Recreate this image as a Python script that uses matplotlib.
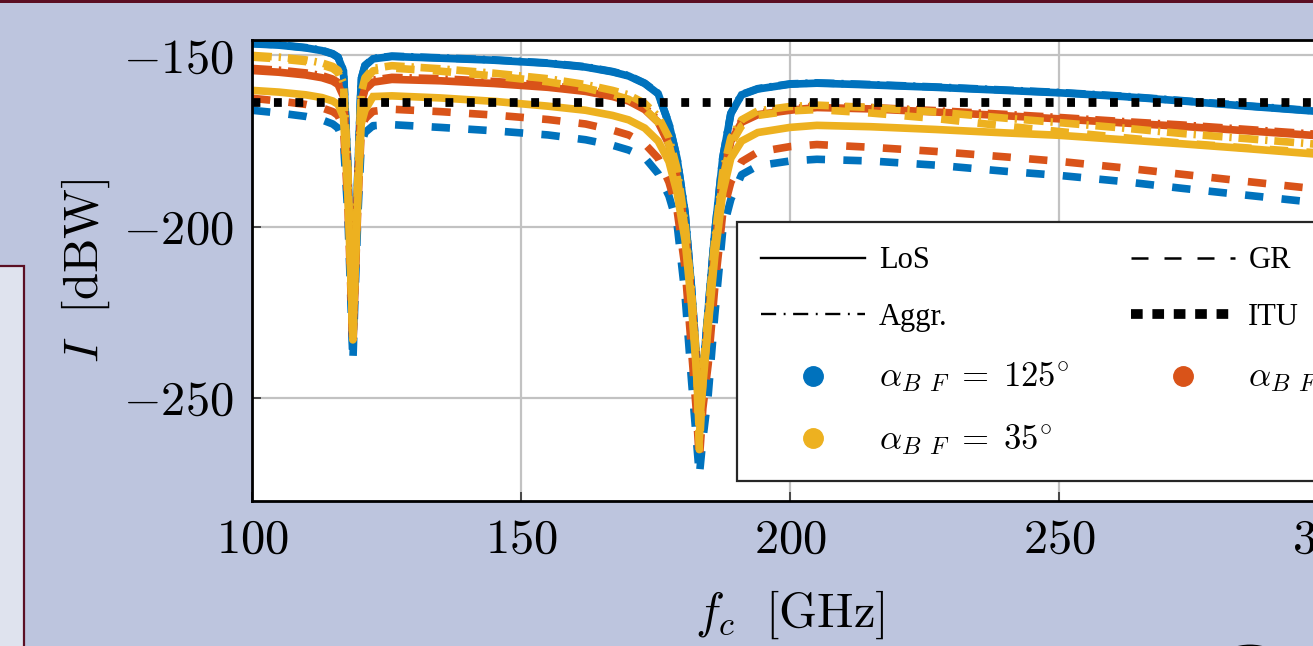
import matplotlib
matplotlib.use('Agg')
import matplotlib.pyplot as plt
from matplotlib.lines import Line2D
from matplotlib.patches import Rectangle, Ellipse

plt.rcParams['mathtext.fontset'] = 'cm'
plt.rcParams['font.family'] = ['Liberation Serif', 'DejaVu Serif']

# carrier frequency [GHz]
freq = [100, 105, 110, 113, 115, 116, 117, 117.8, 118.3, 118.75,
        119.2, 119.7, 120.3, 121, 122.5, 126, 135, 145, 155, 162,
        167, 170, 173, 175.5, 177.5, 179, 180.5, 181.7, 182.6, 183.15,
        183.8, 184.8, 186, 187.5, 189, 191, 194, 200, 205, 215,
        227, 240, 250, 262, 273, 285, 297, 300]

# interference [dBW], alpha_BF = 125 deg (blue)
blue_los = [-146.6, -147.0, -147.8, -148.6, -149.6, -150.6, -154.5, -182, -210, -235,
            -210, -183, -157, -153.0, -151.0, -150.3, -150.8, -151.4, -152.3, -153.4,
            -154.8, -156.0, -158.2, -161.2, -170, -180, -196, -218, -238, -255,
            -243, -224, -202, -180, -167, -161.5, -159.8, -158.4, -158.1, -158.6,
            -159.3, -160.2, -160.9, -162.0, -163.3, -164.8, -166.2, -166.6]
blue_gr = [-166.0, -166.8, -167.8, -168.8, -170.0, -171.2, -175, -196, -218, -239.4,
           -218, -196, -176, -172.5, -170.5, -170.2, -171.0, -172.0, -173.2, -174.6,
           -176.2, -177.6, -179.8, -184.5, -191, -199, -220, -245, -262, -272.5,
           -262, -249, -226, -201, -192, -184.8, -182.2, -180.8, -180.3, -180.8,
           -182.0, -183.8, -185.0, -186.8, -188.8, -190.8, -192.8, -193.3]
blue_aggr = [-146.5, -146.9, -147.7, -148.5, -149.5, -150.5, -154.4, -181.9, -209.9, -234.9,
             -209.9, -182.9, -156.9, -152.9, -150.9, -150.2, -150.7, -151.3, -152.2, -153.3,
             -154.7, -155.9, -158.1, -161.1, -169.9, -179.9, -195.9, -217.9, -237.9, -254.9,
             -242.9, -223.9, -201.9, -179.9, -166.9, -161.4, -159.7, -158.3, -158.0, -158.5,
             -159.2, -160.1, -160.8, -161.9, -163.2, -164.7, -166.1, -166.5]

# alpha_BF = 80 deg (orange)
orange_los = [-154.4, -154.9, -155.7, -156.5, -157.5, -158.5, -162, -186, -210, -232,
              -210, -187, -164, -160, -157.8, -157.0, -157.4, -158.2, -159.3, -160.5,
              -162.0, -163.3, -165.8, -169.5, -176, -186, -201, -221, -240, -258,
              -245, -228, -207, -186, -175, -169.5, -167.3, -166.0, -165.2, -165.6,
              -166.5, -167.6, -168.5, -169.7, -170.7, -172.0, -173.3, -173.6]
orange_gr = [-162.5, -163.3, -164.3, -165.3, -166.4, -167.5, -171, -193, -215, -235.4,
             -215, -193, -172, -168.5, -166.3, -165.7, -166.4, -167.4, -168.7, -170.0,
             -171.8, -173.2, -175.8, -180, -187, -195, -212, -236, -254, -268,
             -253, -240, -218, -196, -187, -181, -178.2, -176.6, -176.0, -176.8,
             -178.0, -179.6, -180.9, -182.8, -184.7, -186.8, -188.8, -189.3]
orange_aggr = [-153.8, -154.3, -155.1, -155.9, -156.9, -157.9, -161.4, -185.5, -209.5, -231.5,
               -209.5, -186.5, -163.4, -159.4, -157.2, -156.4, -156.8, -157.6, -158.7, -159.9,
               -161.4, -162.7, -165.2, -168.9, -175.4, -185.4, -200.5, -220.5, -239.5, -257.5,
               -244.5, -227.5, -206.5, -185.5, -174.5, -169.0, -166.8, -165.6, -164.8, -165.2,
               -166.1, -167.2, -168.1, -169.3, -170.3, -171.6, -172.9, -173.2]

# alpha_BF = 35 deg (yellow)
yellow_los = [-160.2, -160.7, -161.5, -162.3, -163.3, -164.3, -168, -190, -212, -230,
              -212, -191, -170, -166, -162.0, -161.8, -162.4, -163.4, -164.8, -166.0,
              -167.5, -168.8, -171.2, -175, -181, -190, -204, -223, -242, -258,
              -246, -229, -209, -190, -180, -175, -172.5, -171.0, -170.4, -170.8,
              -171.6, -172.6, -173.3, -174.6, -175.8, -177.2, -178.7, -179.1]
yellow_gr = [-150.5, -151.0, -151.8, -152.8, -153.8, -155.0, -158.8, -184, -209, -234,
             -209, -185, -162, -157.3, -154.5, -153.7, -154.6, -156.0, -157.7, -159.5,
             -161.4, -162.8, -165.6, -169.5, -176, -185, -201, -221, -241, -265,
             -245, -228, -206, -186, -176, -170.5, -167.5, -166.2, -165.8, -166.8,
             -168.4, -170.6, -172.2, -174.0, -175.6, -177.0, -178.3, -178.7]
yellow_aggr = [-150.0, -150.5, -151.3, -152.2, -153.2, -154.3, -158, -183, -208, -233,
               -208, -184, -161, -156.5, -153.8, -153.0, -153.9, -155.2, -156.8, -158.5,
               -160.2, -161.5, -164.0, -167.8, -174, -183, -199, -219, -238, -262,
               -242, -225, -204, -184, -174, -168.8, -166.2, -164.9, -164.5, -165.2,
               -166.5, -168.3, -169.6, -171.2, -172.8, -174.3, -175.8, -176.2]

itu_freq = [100, 300]
itu_level = [-163.6, -163.6]

xticks = [100, 150, 200, 250, 300]
yticks = [-250, -200, -150]

C_BLUE = '#0072BD'
C_ORANGE = '#D95319'
C_YELLOW = '#EDB120'
SLIDE_BG = '#BDC5DE'
MAROON = '#5B0F23'

W, H = 1313, 646
fig = plt.figure(figsize=(W / 100, H / 100), dpi=100, facecolor=SLIDE_BG)

def fx(px):
    return px / W

def fy(py):
    return 1 - py / H

# slide decorations
fig.add_artist(Rectangle((0, fy(3)), 1, fy(0) - fy(3), transform=fig.transFigure,
                         facecolor=MAROON, edgecolor='none'))
fig.add_artist(Rectangle((fx(-10), fy(660)), fx(34), fy(266) - fy(660), transform=fig.transFigure,
                         facecolor='#DFE3EE', edgecolor=MAROON, lw=1.6))
fig.add_artist(Ellipse((fx(1250), fy(692)), fx(96), 90 / H, transform=fig.transFigure,
                       facecolor='none', edgecolor='black', lw=3.5))

ax = fig.add_axes([fx(252), fy(501), fx(1328) - fx(252), fy(40) - fy(501)])
ax.set_facecolor('white')

lw = 5.5
dash = (0, (2.4, 2.4))
dashdot = (0, (2.6, 0.9, 0.3, 0.9))
for los, gr, aggr, c in [(blue_los, blue_gr, blue_aggr, C_BLUE),
                         (orange_los, orange_gr, orange_aggr, C_ORANGE),
                         (yellow_los, yellow_gr, yellow_aggr, C_YELLOW)]:
    ax.plot(freq, gr, color=c, lw=lw, ls=dash, dash_capstyle='butt')
    ax.plot(freq, aggr, color=c, lw=lw, ls=dashdot, dash_capstyle='butt')
    ax.plot(freq, los, color=c, lw=lw, ls='-', solid_joinstyle='miter')
ax.plot(itu_freq, itu_level, color='black', lw=6.3, ls=(0, (0.9, 1.55)), dash_capstyle='butt')

ax.set_xlim(100, 300)
ax.set_ylim(-280, -145.5)
ax.set_xticks(xticks)
ax.set_xticklabels([f'${t}$' for t in xticks])
ax.set_yticks(yticks)
ax.set_yticklabels([f'${t}$' for t in yticks])
ax.tick_params(direction='in', length=6.5, width=1.2, color='0.2', labelsize=35, pad=13)
ax.grid(True, color='#C2C2C2', lw=1.6)
ax.set_axisbelow(True)
for s in ax.spines.values():
    s.set_linewidth(2)
    s.set_color('black')

ax.set_xlabel(r'$f_c\ \ [\mathrm{GHz}]$', fontsize=35)
ax.set_ylabel(r'$I\ \ [\mathrm{dBW}]$', fontsize=35)
ax.xaxis.set_label_coords(0.5, -0.19)
ax.yaxis.set_label_coords(-0.13, 0.5)

k = 'black'
handles = [
    Line2D([], [], color=k, lw=1.7, ls='-'),
    Line2D([], [], color=k, lw=1.7, ls=(0, (6.4, 3.2, 0.8, 3.2))),
    Line2D([], [], color=C_BLUE, ls='none', marker='o', markersize=14),
    Line2D([], [], color=C_YELLOW, ls='none', marker='o', markersize=14),
    Line2D([], [], color=k, lw=1.8, ls=(0, (6.8, 6.4))),
    Line2D([], [], color=k, lw=7, ls=(0, (1.2, 1.0))),
    Line2D([], [], color=C_ORANGE, ls='none', marker='o', markersize=14),
]
labels = ['LoS', 'Aggr.', r'$\alpha_{B\;\,F}\;=\;125^{\circ}$', r'$\alpha_{B\;\,F}\;=\;35^{\circ}$',
          'GR', 'ITU', r'$\alpha_{B\;\,F}\;=\;80^{\circ}$']
leg = fig.legend(handles, labels, ncol=2, loc='upper left',
                 bbox_to_anchor=(fx(737), fy(222)), bbox_transform=fig.transFigure,
                 fontsize=22, frameon=True, fancybox=False, framealpha=1,
                 edgecolor='0.15', handlelength=3.4, handletextpad=0.45,
                 columnspacing=2.0, labelspacing=0.9, borderpad=0.8, borderaxespad=0)
leg.get_frame().set_linewidth(1.6)
for t in leg.get_texts():
    if '$' in t.get_text():
        t.set_fontsize(25)

fig.savefig('out.png', dpi=100, facecolor=SLIDE_BG)
